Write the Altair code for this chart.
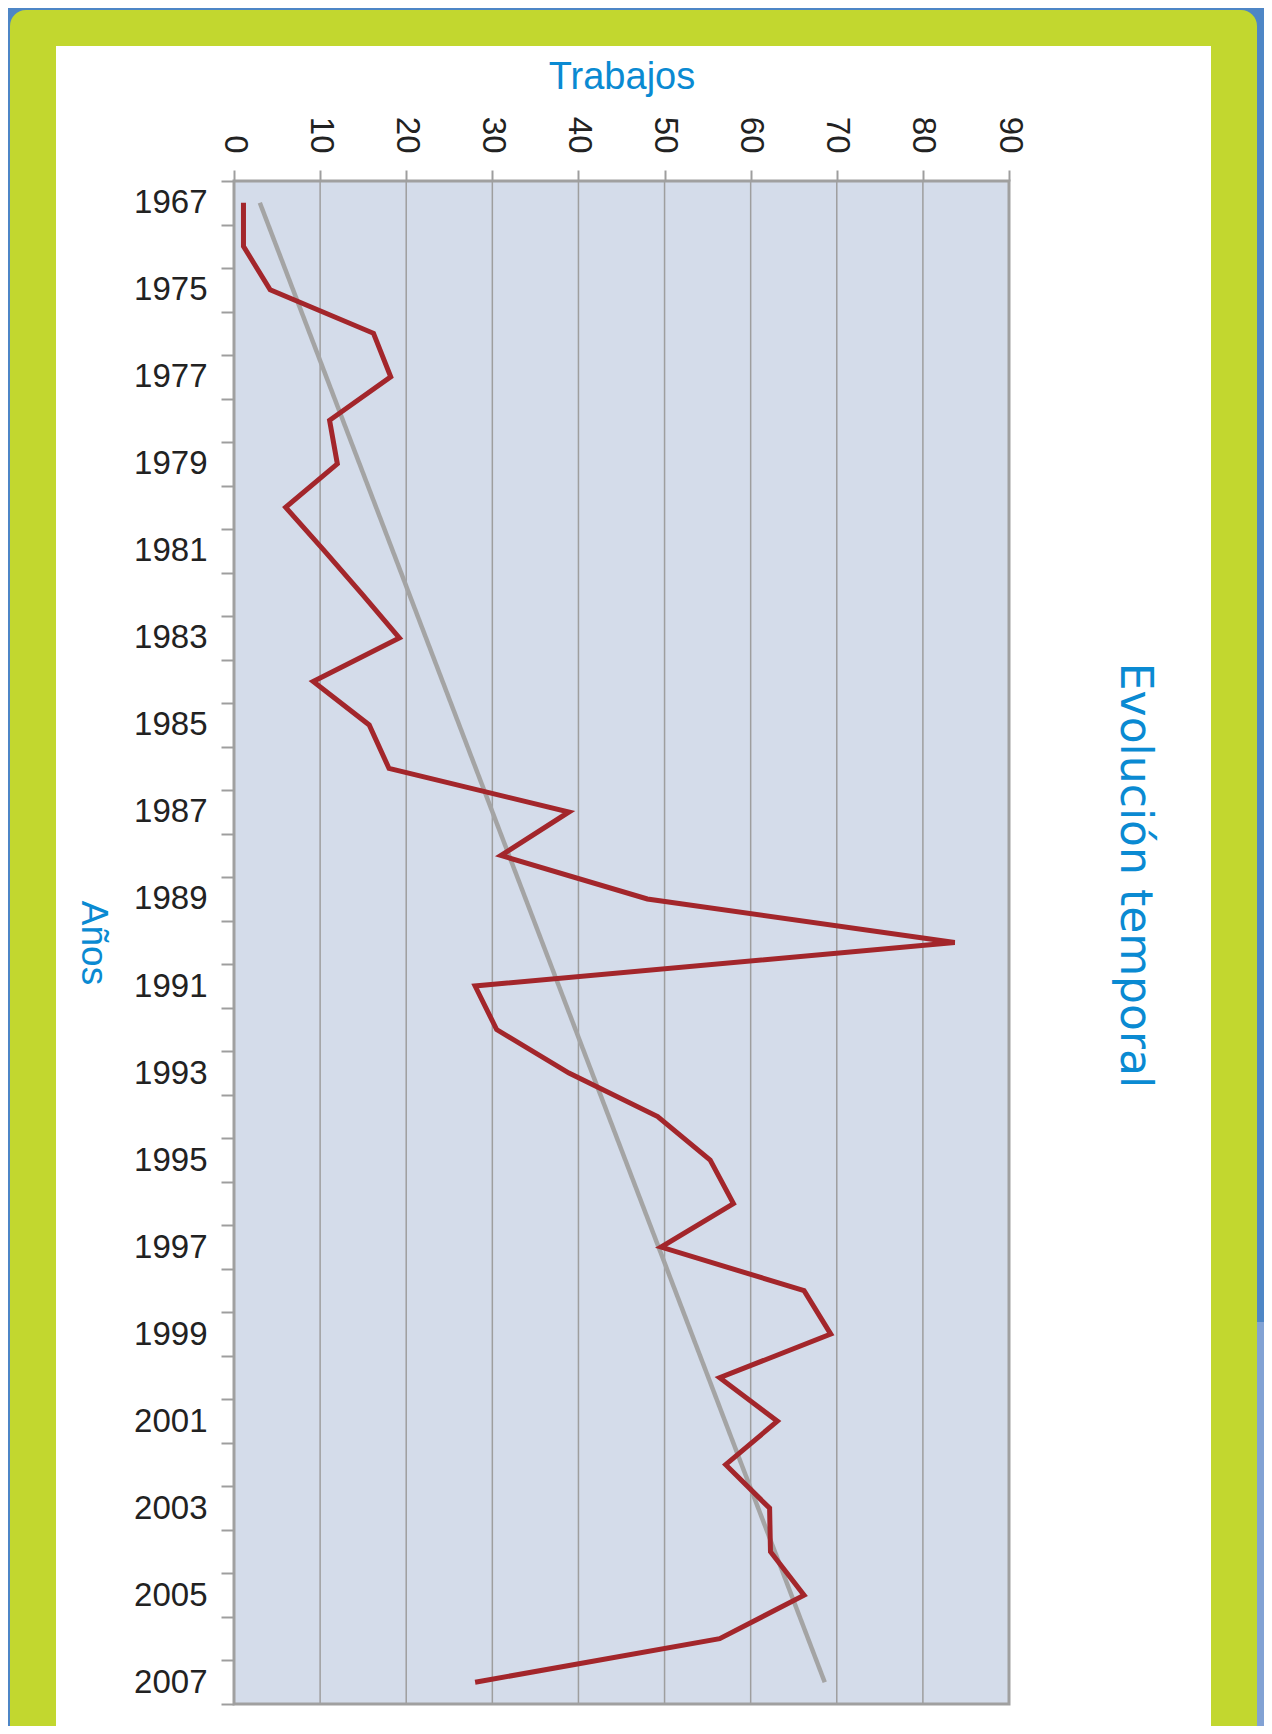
import json
import altair as alt
import pandas as pd

# ---------------- data ----------------
years = ["1967", "1974", "1975", "1976", "1977", "1978", "1979", "1980", "1981",
         "1982", "1983", "1984", "1985", "1986", "1987", "1988", "1989", "1990",
         "1991", "1992", "1993", "1994", "1995", "1996", "1997", "1998", "1999",
         "2000", "2001", "2002", "2003", "2004", "2005", "2006", "2007"]
trabajos = [1.1, 1.1, 4.2, 16.2, 18.2, 11.1, 12.0, 6.0, 10.5,
            14.9, 19.2, 9.2, 15.7, 18.0, 38.9, 31.0, 48.0, 83.7,
            28.0, 30.5, 38.9, 49.2, 55.3, 58.0, 49.6, 66.2, 69.3,
            56.4, 63.1, 57.1, 62.2, 62.3, 66.2, 56.4, 28.0]
trend_years = ["1967", "2007"]
trend_values = [3.0, 68.6]
x_ticks = [0, 10, 20, 30, 40, 50, 60, 70, 80, 90]
grid_values = [10, 20, 30, 40, 50, 60, 70, 80, 90]
shown_year_labels = years[::2]

# ---------------- layout constants ----------------
W, H = 775, 1523
BLUE = "#4E86C6"
LIME = "#C2D72F"
PLOT_FILL = "#D4DCEA"
RED = "#A3262B"
GRAY = "#9E9E9E"
TITLE_BLUE = "#0A8AD2"
SANS = "Liberation Sans, Arial, sans-serif"
DEJAVU = "DejaVu Sans, sans-serif"

df = pd.DataFrame({"year": years, "value": trabajos})
trend_df = pd.DataFrame({"year": trend_years, "value": trend_values})
grid_df = pd.DataFrame({"v": grid_values})
one = pd.DataFrame({"k": [0]})

x_scale = alt.Scale(domain=[0, 90], nice=False, zero=True)
y_scale = alt.Scale(type="band", domain=years, paddingInner=0, paddingOuter=0)

label_expr = "indexof(" + json.dumps(shown_year_labels) + ", datum.value) >= 0 ? datum.value : ''"

x_axis = alt.Axis(
    orient="top", values=x_ticks, title="Trabajos", grid=False, domain=False,
    labelAngle=90, labelAlign="right", labelBaseline="middle",
    labelFont=SANS, labelFontSize=33, labelColor="#222222", labelPadding=17,
    tickSize=11, tickColor=GRAY, tickWidth=2,
    titleFont=SANS, titleFontSize=38, titleFontWeight="normal", titleColor=TITLE_BLUE,
    titleBaseline="middle", titleY=-104, zindex=1,
)
y_axis = alt.Axis(
    orient="left", title="Años", grid=False, domain=False, tickBand="extent",
    labelExpr=label_expr, labelOverlap=False,
    labelFont=SANS, labelFontSize=33, labelColor="#222222", labelPadding=14,
    tickSize=13, tickColor=GRAY, tickWidth=2,
    titleFont=SANS, titleFontSize=37, titleFontWeight="normal", titleColor=TITLE_BLUE,
    titleAngle=90, titleBaseline="middle", titleX=-142, zindex=1,
)

# decorative frame
lime = alt.Chart(one).mark_rect(color=LIME, cornerRadius=16).encode(
    x=alt.value(-224), x2=alt.value(1023), y=alt.value(-171), y2=alt.value(1560))
light_strip = alt.Chart(one).mark_rect(color="#82A2D4").encode(
    x=alt.value(1023), x2=alt.value(1040), y=alt.value(1141), y2=alt.value(1560))
white = alt.Chart(one).mark_rect(color="#FFFFFF").encode(
    x=alt.value(-178), x2=alt.value(977), y=alt.value(-135), y2=alt.value(1547))
plot_bg = alt.Chart(one).mark_rect(color=PLOT_FILL).encode(
    x=alt.value(0), x2=alt.value(W), y=alt.value(0), y2=alt.value(H))

grid = alt.Chart(grid_df).mark_rule(color=GRAY, strokeWidth=1.5).encode(
    x=alt.X("v:Q", scale=x_scale, axis=x_axis), y=alt.value(0), y2=alt.value(H))

trend = alt.Chart(trend_df).mark_line(color="#A4A4A4", strokeWidth=4.5).encode(
    x=alt.X("value:Q", scale=x_scale, axis=x_axis),
    y=alt.Y("year:O", scale=y_scale, sort=years, axis=y_axis))

line = alt.Chart(df).mark_line(color=RED, strokeWidth=5, strokeJoin="miter").encode(
    x=alt.X("value:Q", scale=x_scale, axis=x_axis),
    y=alt.Y("year:O", scale=y_scale, sort=years, axis=y_axis))

border = alt.Chart(one).mark_rect(fill="transparent", stroke="#A0A0A0", strokeWidth=3).encode(
    x=alt.value(0), x2=alt.value(W), y=alt.value(0), y2=alt.value(H))

chart = alt.layer(lime, light_strip, white, plot_bg, grid, trend, line, border).properties(
    width=W, height=H,
    title=alt.TitleParams(
        "Evolución temporal", orient="right", angle=90, anchor="middle",
        baseline="alphabetic", font=DEJAVU, fontSize=44, fontWeight="normal",
        color=TITLE_BLUE, offset=-197, dx=-67),
    autosize=alt.AutoSizeParams(type="none"),
    padding={"left": 226, "top": 173, "right": 255, "bottom": 22},
).configure(background=BLUE).configure_view(stroke=None)

chart.save("out.html", embed_options={"renderer": "svg", "actions": False})
